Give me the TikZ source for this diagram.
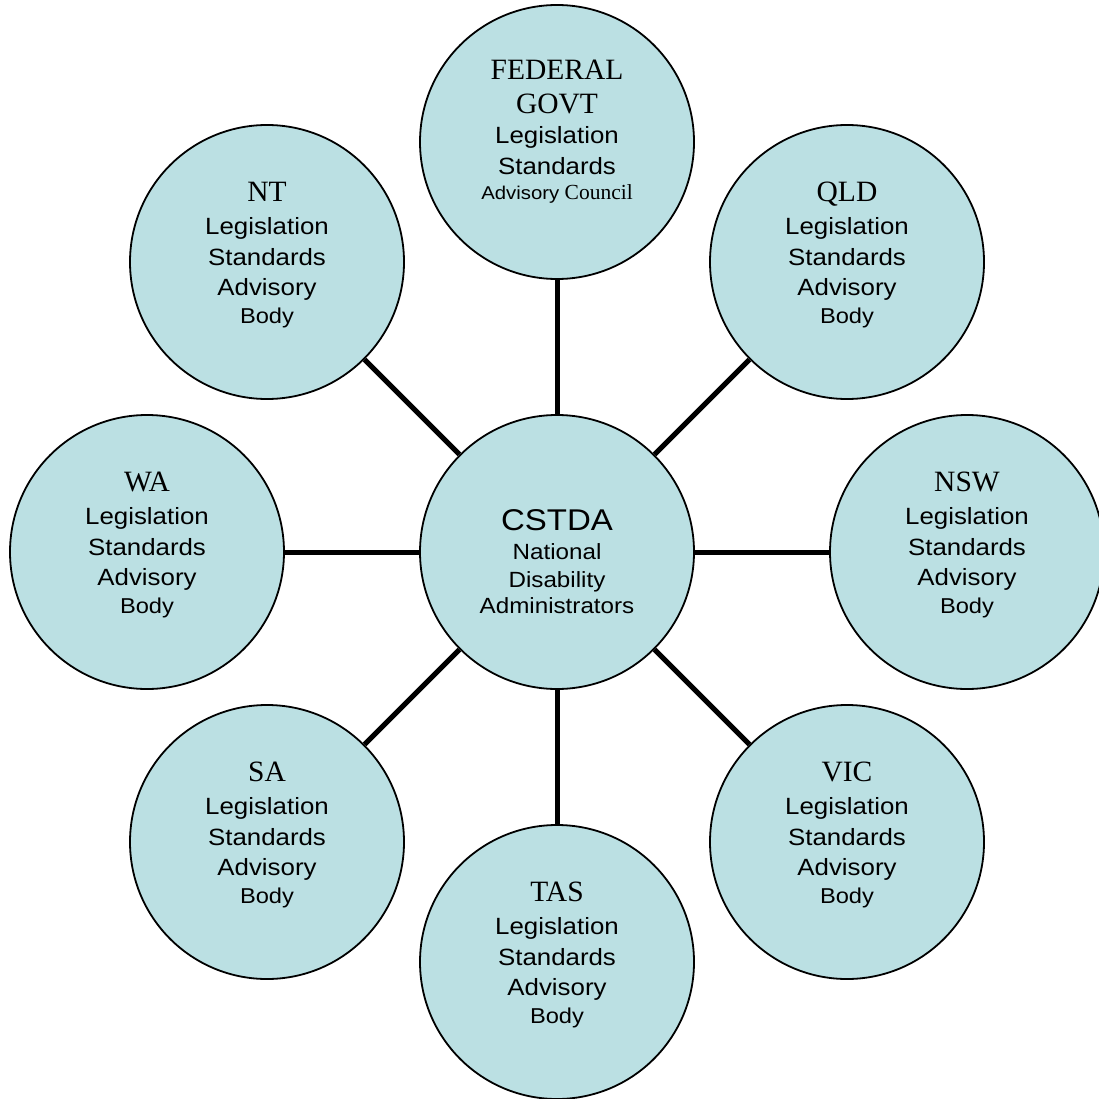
\documentclass[tikz,border=0pt]{standalone}
\usepackage{fontspec}
\setmainfont{Liberation Serif}
\newfontfamily\arialw[FakeStretch=1.1]{Liberation Sans}
\definecolor{bodyfill}{RGB}{187,224,227}

% one line of text in a circle, placed by its baseline
\tikzset{
  body/.style={circle, draw=black, line width=1.8pt, fill=bodyfill,
    minimum size=274pt, inner sep=0pt},
  link/.style={line width=5pt, draw=black},
  ttl/.style={anchor=base, inner sep=0pt, font=\fontsize{29.5}{33}\selectfont},
  lbl/.style={anchor=base, inner sep=0pt, font=\arialw\fontsize{23.5}{28}\selectfont},
  sml/.style={anchor=base, inner sep=0pt, font=\arialw\fontsize{21.5}{25}\selectfont},
  big/.style={anchor=base, inner sep=0pt, font=\arialw\fontsize{30}{34}\selectfont},
  mid/.style={anchor=base, inner sep=0pt, font=\arialw\fontsize{22}{26}\selectfont},
}

% state or territory advisory body: title, then four lines
\newcommand\statetext[2]{%
  \node[ttl] (#1-t) at ([yshift=60.5pt]#1.center) {#2};
  \node[lbl] (#1-l) at ([yshift=27.5pt]#1.center) {Legislation};
  \node[lbl] (#1-s) at ([yshift=-3pt]#1.center) {Standards};
  \node[lbl] (#1-a) at ([yshift=-33.5pt]#1.center) {Advisory};
  \node[sml] (#1-b) at ([yshift=-61.5pt]#1.center) {Body};}

\begin{document}
\begin{tikzpicture}[x=1pt, y=-1pt]
  \useasboundingbox (0,0) rectangle (1099,1099);

  % circles
  \node[body] (cstda) at (557,552) {};
  \node[body] (fed)   at (557,142) {};
  \node[body] (nt)    at (267,262) {};
  \node[body] (qld)   at (847,262) {};
  \node[body] (wa)    at (147,552) {};
  \node[body] (nsw)   at (967,552) {};
  \node[body] (sa)    at (267,842) {};
  \node[body] (vic)   at (847,842) {};
  \node[body] (tas)   at (557,962) {};

  % spokes from the centre
  \foreach \n in {fed,nt,qld,wa,nsw,sa,vic,tas}
    \draw[link] (cstda) -- (\n);

  % centre text
  \node[big] (cstda-t) at ([yshift=22pt]cstda.center) {CSTDA};
  \node[mid] (cstda-n) at ([yshift=-7pt]cstda.center) {National};
  \node[mid] (cstda-d) at ([yshift=-35pt]cstda.center) {Disability};
  \node[mid] (cstda-a) at ([yshift=-61pt]cstda.center) {Administrators};

  % federal text
  \node[ttl] (fed-t1) at ([yshift=62pt]fed.center) {FEDERAL};
  \node[ttl] (fed-t2) at ([yshift=28pt]fed.center) {GOVT};
  \node[lbl] (fed-l)  at ([yshift=-2pt]fed.center) {Legislation};
  \node[lbl] (fed-s)  at ([yshift=-33pt]fed.center) {Standards};
  \node[anchor=base, inner sep=0pt] (fed-a) at ([yshift=-58pt]fed.center)
    {{\arialw\fontsize{18.5}{22}\selectfont Advisory}{\fontsize{21.5}{25}\selectfont\ Council}};

  % state and territory text
  \statetext{nt}{NT}
  \statetext{qld}{QLD}
  \statetext{wa}{WA}
  \statetext{nsw}{NSW}
  \statetext{sa}{SA}
  \statetext{vic}{VIC}
  \statetext{tas}{TAS}
\end{tikzpicture}
\end{document}
